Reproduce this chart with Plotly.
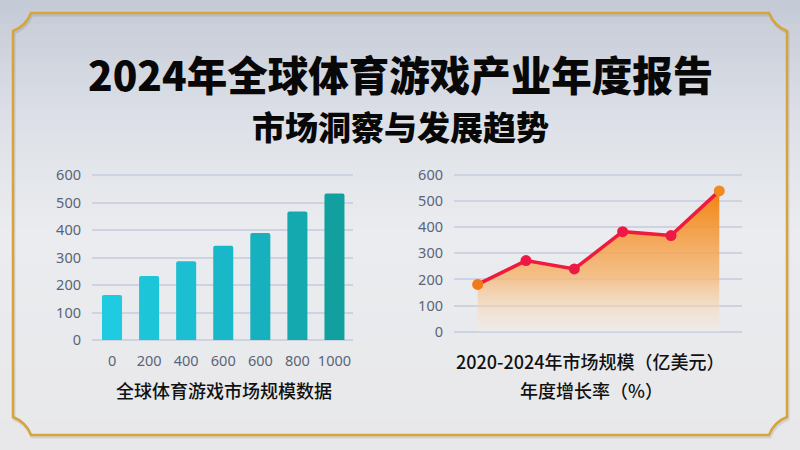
import plotly.graph_objects as go

W, H = 800, 450


def px(x):
    return x / W


def py(y):
    return 1 - y / H


# ---------------- data ----------------
bar_labels = ["0", "200", "400", "600", "600", "800", "1000"]
bar_values = [164, 233, 286, 343, 389, 467, 533]
line_values = [181, 272, 240, 383, 368, 539]
y_ticks = [0, 100, 200, 300, 400, 500, 600]

title_text = "2024年全球体育游戏产业年度报告"
subtitle_text = "市场洞察与发展趋势"
left_caption = "全球体育游戏市场规模数据"
right_caption = ["2020-2024年市场规模（亿美元）", "年度增长率（%）"]

# ---------------- styles ----------------
bar_colors = ["#1fcbe0", "#1dc5d9", "#1bbfd1", "#19b8c8", "#17b0be", "#14a8af", "#11a09d"]
marker_colors = ["#f07a18", "#ee1846", "#ee1846", "#ee1846", "#ee1846", "#f08a22"]
grid_color = "#cdd3e2"
tick_color = "#5a6479"
CJK = "Noto Sans CJK SC, Noto Sans, sans-serif"
NUM = "Noto Sans, Open Sans, sans-serif"

fig = go.Figure()

fig.add_trace(go.Bar(
    x=list(range(len(bar_values))), y=bar_values,
    marker=dict(color=bar_colors, line_width=0, cornerradius=2),
    width=0.54, xaxis="x", yaxis="y", showlegend=False, hoverinfo="skip",
))

fig.add_trace(go.Scatter(
    x=list(range(len(line_values))), y=line_values,
    mode="lines+markers", fill="tozeroy",
    fillgradient=dict(type="vertical",
                      colorscale=[[0, "rgba(250,236,222,0.3)"], [0.4, "rgba(246,178,105,0.78)"], [1, "rgba(242,130,16,1)"]],
                      start=0, stop=540),
    line=dict(color="#ef1a3c", width=3.5),
    marker=dict(size=11, color=marker_colors),
    xaxis="x2", yaxis="y2", showlegend=False, hoverinfo="skip",
))

# background gradient bands
stops = [(0, (196, 202, 214)), (120, (221, 224, 231)), (230, (234, 236, 239)), (450, (232, 232, 234))]


def col_at(y):
    for (y0, c0), (y1, c1) in zip(stops[:-1], stops[1:]):
        if y0 <= y <= y1:
            t = (y - y0) / (y1 - y0)
            return tuple(round(a + (b - a) * t) for a, b in zip(c0, c1))
    return stops[-1][1]


shapes = []
step = 6
for yy in range(0, H, step):
    c = col_at(yy + step / 2)
    shapes.append(dict(type="rect", xref="paper", yref="paper", x0=0, x1=1,
                       y0=py(yy + step + 0.5), y1=py(yy), fillcolor="rgb(%d,%d,%d)" % c,
                       line_width=0, layer="below"))


def border_path(L, T, R, B, n, k):
    pts = []
    pts.append("M%.5f,%.5f" % (px(L + n), py(T)))
    pts.append("L%.5f,%.5f" % (px(R - n), py(T)))
    pts.append("Q%.5f,%.5f %.5f,%.5f" % (px(R - k), py(T + k), px(R), py(T + n)))
    pts.append("L%.5f,%.5f" % (px(R), py(B - n)))
    pts.append("Q%.5f,%.5f %.5f,%.5f" % (px(R - k), py(B - k), px(R - n), py(B)))
    pts.append("L%.5f,%.5f" % (px(L + n), py(B)))
    pts.append("Q%.5f,%.5f %.5f,%.5f" % (px(L + k), py(B - k), px(L), py(B - n)))
    pts.append("L%.5f,%.5f" % (px(L), py(T + n)))
    pts.append("Q%.5f,%.5f %.5f,%.5f" % (px(L + k), py(T + k), px(L + n), py(T)))
    pts.append("Z")
    return " ".join(pts)


shapes.append(dict(type="path", xref="paper", yref="paper",
                   path=border_path(14, 15, 788, 437, 18, 13),
                   line=dict(color="rgba(60,60,70,0.12)", width=3), layer="below"))
shapes.append(dict(type="path", xref="paper", yref="paper",
                   path=border_path(13, 13, 787, 435, 18, 13),
                   line=dict(color="#d6a43a", width=2.5), layer="below"))

annotations = [
    dict(text=title_text, x=px(400), y=py(73), xref="paper", yref="paper",
         showarrow=False, xanchor="center", yanchor="middle",
         font=dict(family=CJK, size=40.5, color="#080808", weight=900)),
    dict(text=subtitle_text, x=px(400), y=py(126), xref="paper", yref="paper",
         showarrow=False, xanchor="center", yanchor="middle",
         font=dict(family=CJK, size=33, color="#080808", weight=900)),
    dict(text=left_caption, x=px(224), y=py(390), xref="paper", yref="paper",
         showarrow=False, xanchor="center", yanchor="middle",
         font=dict(family=CJK, size=18, color="#111111", weight=500)),
    dict(text=right_caption[0], x=px(590), y=py(361), xref="paper", yref="paper",
         showarrow=False, xanchor="center", yanchor="middle",
         font=dict(family=CJK, size=18, color="#111111", weight=500)),
    dict(text=right_caption[1], x=px(591), y=py(390), xref="paper", yref="paper",
         showarrow=False, xanchor="center", yanchor="middle",
         font=dict(family=CJK, size=18, color="#111111", weight=500)),
]

yaxis_common = dict(
    range=[-4, 606], tickvals=y_ticks, showgrid=True, gridcolor=grid_color, gridwidth=1.5,
    zeroline=False, showline=False, ticks="", ticklabelstandoff=10,
    tickfont=dict(family=NUM, size=14.5, color=tick_color), fixedrange=True, automargin=False,
)

fig.update_layout(
    width=W, height=H, margin=dict(l=0, r=0, t=0, b=0, autoexpand=False),
    paper_bgcolor="#c6ccd7", plot_bgcolor="rgba(0,0,0,0)",
    shapes=shapes, annotations=annotations, showlegend=False,
    xaxis=dict(domain=[px(92), px(353)], range=[-0.54, 6.5],
               tickvals=list(range(len(bar_labels))), ticktext=bar_labels,
               showgrid=False, zeroline=False, showline=False, ticks="",
               ticklabelstandoff=9, automargin=False,
               tickfont=dict(family=NUM, size=14.5, color=tick_color), fixedrange=True),
    yaxis=dict(domain=[py(341.1), py(173.35)], anchor="x", **yaxis_common),
    xaxis2=dict(domain=[px(454), px(742)], range=[-0.49, 5.47], anchor="y2",
                showticklabels=False, showgrid=False, zeroline=False, showline=False,
                ticks="", fixedrange=True, automargin=False),
    yaxis2=dict(domain=[py(332.7), py(173.4)], anchor="x2", **yaxis_common),
)

fig.write_html("out.html", config={"displayModeBar": False})
